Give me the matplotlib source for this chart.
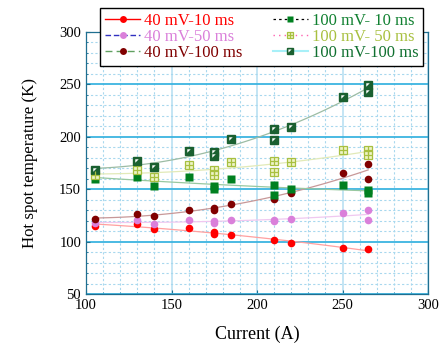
import numpy as np
import matplotlib
matplotlib.use('Agg')
import matplotlib.pyplot as plt
from matplotlib.lines import Line2D
from matplotlib.legend_handler import HandlerTuple
from matplotlib.ticker import MultipleLocator

plt.rcParams['font.family'] = ['Liberation Serif', 'DejaVu Serif']

# data (current in A, temperature in K)
x_10 = [105, 130, 140, 160, 175, 175, 185, 210, 220, 250, 265]
y_40_10 = [115, 116.5, 112, 112.7, 107, 109, 106.6, 101.2, 98.4, 94.2, 92.6]

x_40_50 = [105, 130, 140, 160, 175, 175, 185, 210, 210, 220, 250, 265, 265]
y_40_50 = [117.4, 120.3, 117.1, 120.3, 118, 120, 120.3, 119.5, 121, 121.3, 127, 129.9, 120.9]

x_40_100 = [105, 130, 140, 160, 175, 175, 185, 210, 220, 250, 265, 265]
y_40_100 = [121.6, 126, 124.7, 129.9, 130.5, 132.5, 135.6, 141, 146, 165.5, 174.3, 159.7]

x_100 = [105, 130, 140, 160, 175, 175, 185, 210, 210, 220, 250, 265, 265]
y_100_10 = [160, 162, 153.4, 162, 150, 153, 159.7, 154, 144.5, 150, 154, 146, 149]
y_100_50 = [163.5, 168.3, 162, 172.7, 168.5, 164, 175.6, 176.6, 166.1, 175.6, 187.7, 187, 182.6]
y_100_100 = [168, 176.9, 171.5, 186.7, 185.8, 181.7, 197.9, 207.7, 197, 209.4, 238.3, 249.7, 242.5]

labels = ['40 mV-10 ms', '40 mV-50 ms', '40 mV-100 ms',
          '100 mV- 10 ms', '100 mV- 50 ms', '100 mV-100 ms']

# little white corner drawn on top of the 100 mV-100 ms squares
corner = [(-1, 1), (0.55, 1), (-1, -0.55), (-1, 1)]


def fit_line(ax, x, y, color):
    p = np.polyfit(x, y, 2)
    xs = np.linspace(min(x), max(x), 100)
    ax.plot(xs, np.polyval(p, xs), color=color, lw=0.9, zorder=2)


fig = plt.figure(figsize=(4.46, 3.43), dpi=100)
ax = fig.add_axes([86 / 446, 1 - 294 / 343, 342 / 446, 262 / 343])

# grid
ax.set_xlim(100, 300)
ax.set_ylim(50, 300)
ax.xaxis.set_major_locator(MultipleLocator(50))
ax.yaxis.set_major_locator(MultipleLocator(50))
ax.xaxis.set_minor_locator(MultipleLocator(10))
ax.yaxis.set_minor_locator(MultipleLocator(10))
ax.grid(which='minor', color='#a8d8ee', lw=0.8, ls=(0, (2, 2)), zorder=0)
ax.grid(which='major', axis='x', color='#bfe3f3', lw=1.3, zorder=0)
ax.grid(which='major', axis='y', color='#3cb4e0', lw=1.3, zorder=0)
ax.set_axisbelow(True)

# fitted trend lines
fit_line(ax, x_10, y_40_10, '#ffa0a0')
fit_line(ax, x_40_50, y_40_50, '#f0c8f0')
fit_line(ax, x_40_100, y_40_100, '#c89898')
fit_line(ax, x_100, y_100_10, '#98c8a0')
fit_line(ax, x_100, y_100_50, '#e2eab8')
fit_line(ax, x_100, y_100_100, '#9cbca4')

ms = 5.5
ax.plot(x_10, y_40_10, 'o', color='#ff0000', ms=ms, mec='none', zorder=3)
ax.plot(x_40_50, y_40_50, 'o', color='#da80da', ms=ms, mec='none', zorder=3)
ax.plot(x_40_100, y_40_100, 'o', color='#800000', ms=ms, mec='none', zorder=3)
ax.plot(x_100, y_100_10, 's', color='#008020', ms=ms, mec='none', zorder=3)
ax.plot(x_100, y_100_50, 's', mfc='#eef4c8', mec='#a8c040', mew=0.9, ms=ms, ls='none', zorder=3)
ax.plot(x_100, y_100_50, '+', color='#a8c040', mew=0.9, ms=ms, ls='none', zorder=4)
ax.plot(x_100, y_100_100, 's', color='#1a6030', ms=ms, mec='#1a6030', ls='none', zorder=3)
ax.plot(x_100, y_100_100, marker=corner, color='white', ms=3.2, mec='none', ls='none', zorder=4)

spine_c = '#1f6f90'
for side in ['left', 'bottom', 'right', 'top']:
    ax.spines[side].set_color(spine_c)
    ax.spines[side].set_linewidth(0.9)
ax.tick_params(which='both', direction='in', color=spine_c, labelsize=10.5, length=3)
ax.tick_params(which='minor', length=1.5)
ax.set_xlabel('Current (A)', fontsize=13, labelpad=10)
ax.set_ylabel('Hot spot temperature (K)', fontsize=12.2, labelpad=15)

# legend handles
lms = 5
h1 = Line2D([], [], color='#ff0000', lw=1, marker='o', ms=lms, mec='none')
h2 = Line2D([], [], color='#3030c0', lw=1, ls=(0, (4, 2)), marker='o', mfc='#da80da', mec='none', ms=lms)
h3 = Line2D([], [], color='#60a060', lw=1, ls=(0, (5, 3)), marker='o', mfc='#800000', mec='none', ms=lms)
h4 = Line2D([], [], color='black', lw=0.9, ls=(0, (2, 2.5)), marker='s', mfc='#008020', mec='none', ms=lms)
h5a = Line2D([], [], color='#ff60b0', lw=1, ls=(0, (1, 3)), marker='s', mfc='#eef4c8', mec='#a8c040', mew=0.9, ms=lms)
h5b = Line2D([], [], ls='none', marker='+', color='#a8c040', mew=0.9, ms=lms)
h6a = Line2D([], [], color='#a8f0f8', lw=1.5, marker='s', mfc='#1a6030', mec='#1a6030', ms=lms)
h6b = Line2D([], [], ls='none', marker=corner, color='white', mec='none', ms=3)

leg = fig.legend([h1, h2, h3, h4, (h5a, h5b), (h6a, h6b)], labels,
                 handler_map={tuple: HandlerTuple(ndivide=1)},
                 ncol=2, loc='upper left', bbox_to_anchor=(100 / 446, 1 - 8 / 343),
                 fontsize=12, frameon=True, fancybox=False, edgecolor='black',
                 framealpha=1, borderpad=0.3, labelspacing=0.0, handlelength=2.1,
                 handletextpad=0.25, columnspacing=1.8, borderaxespad=0,
                 labelcolor=['#ff0000', '#da80da', '#800000', '#108030', '#a8c040', '#107030'])
leg.get_frame().set_linewidth(1.0)

fig.savefig('out.png', dpi=100)
